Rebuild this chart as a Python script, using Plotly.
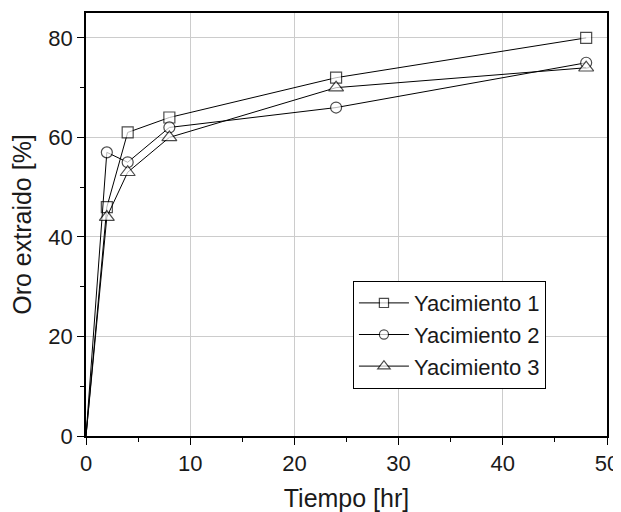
import plotly.graph_objects as go

tiempo = [0, 2, 4, 8, 24, 48]
yacimiento_1 = [0, 46, 61, 64, 72, 80]
yacimiento_2 = [0, 57, 55, 62, 66, 75]
yacimiento_3 = [0, 44, 53, 60, 70, 74]
series_names = ["Yacimiento 1", "Yacimiento 2", "Yacimiento 3"]
symbols = ["square", "circle", "triangle-up"]
x_ticks = [0, 10, 20, 30, 40, 50]
y_ticks = [0, 20, 40, 60, 80]

FONT = "Arial, Liberation Sans, sans-serif"
TXT = "#1a1a1a"

fig = go.Figure()
for name, ys, sym in zip(series_names, [yacimiento_1, yacimiento_2, yacimiento_3], symbols):
    base = 13 if sym == "triangle-up" else 11
    sizes = [0 if t == 0 else base for t in tiempo]
    fig.add_trace(go.Scatter(
        x=tiempo, y=ys, name=name, mode="lines+markers",
        line=dict(color="black", width=1),
        marker=dict(symbol=sym, size=sizes, color="white",
                    line=dict(color="black", width=1.2)),
        cliponaxis=False,
    ))

axis_common = dict(
    showline=True, linecolor="black", linewidth=1.6, mirror=True,
    ticks="outside", ticklen=7, tickcolor="black", tickwidth=1.2,
    showgrid=True, gridcolor="#cccccc", gridwidth=1, zeroline=False,
    tickfont=dict(family=FONT, size=22, color=TXT),
    automargin=False,
)

fig.update_xaxes(
    range=[0, 50], tickvals=x_ticks,
    minor=dict(ticks="outside", dtick=5, ticklen=4, tickcolor="black", showgrid=False),
    title=dict(text="Tiempo [hr]", font=dict(family=FONT, size=25, color=TXT), standoff=14),
    **axis_common,
)
fig.update_yaxes(
    range=[0, 85], tickvals=y_ticks,
    minor=dict(ticks="outside", dtick=10, ticklen=4, tickcolor="black", showgrid=False),
    title=dict(text="Oro extraido [%]", font=dict(family=FONT, size=25, color=TXT), standoff=13),
    **axis_common,
)

# page body has an 8px margin, so the figure is sized/offset to compensate
fig.update_layout(
    width=613, height=504,
    margin=dict(l=78, r=14, t=5, b=76),
    plot_bgcolor="white", paper_bgcolor="white",
    legend=dict(
        x=0.512, y=0.239, xanchor="left", yanchor="middle",
        bgcolor="white", bordercolor="black", borderwidth=1.2,
        font=dict(family=FONT, size=22, color=TXT),
        tracegroupgap=0, itemwidth=50,
    ),
    showlegend=True,
)

fig.write_html("out.html")
